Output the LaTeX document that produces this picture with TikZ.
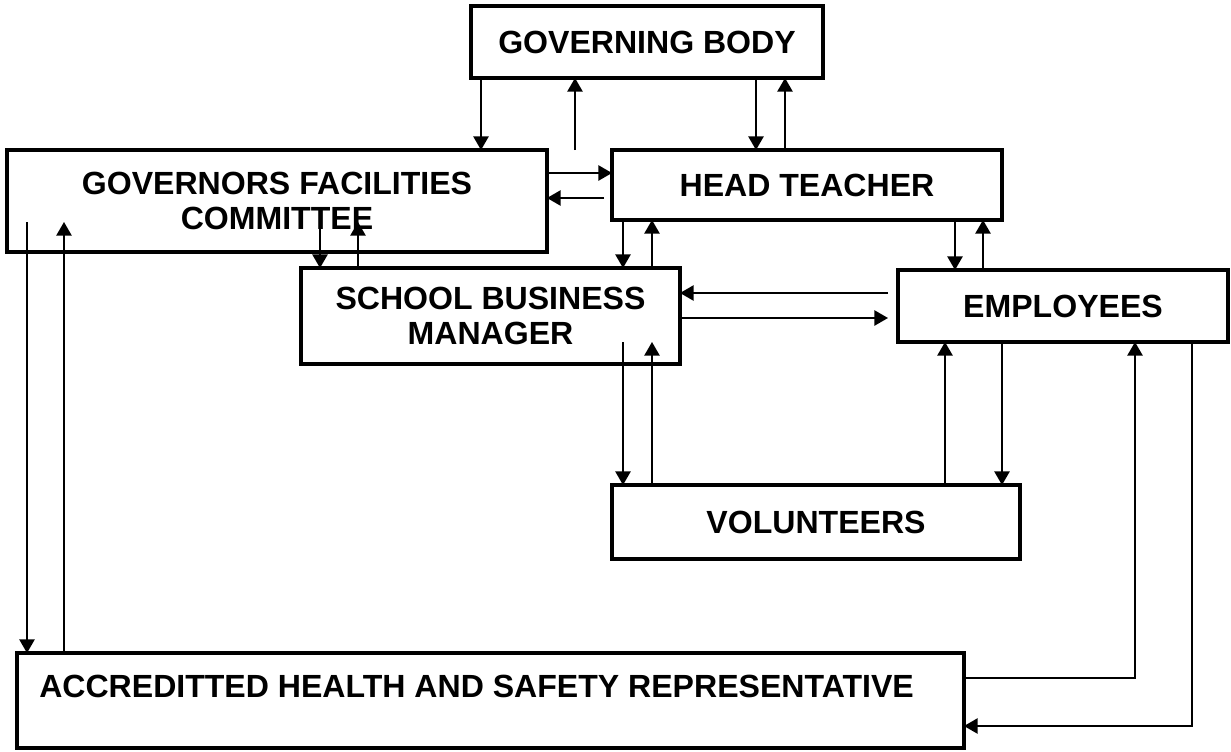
\documentclass[tikz,border=0pt]{standalone}
\usepackage{fontspec}
\setmainfont{Liberation Sans}
\usetikzlibrary{arrows.meta}
\begin{document}
\begin{tikzpicture}[x=0.025cm,y=-0.025cm,
  box/.style={draw,line width=3.4pt,outer sep=0pt,inner sep=0pt,align=center,
    font=\fontsize{22.8}{25.5}\selectfont\bfseries},
  arr/.style={line width=1.3pt,-{Triangle[length=0.34cm,width=0.38cm]}}]
 \useasboundingbox (0,0) rectangle (1231,751);
 \node[box,minimum width=352*0.025cm,minimum height=72*0.025cm] (gb) at (647,42) {GOVERNING BODY};
 \node[box,minimum width=540*0.025cm,minimum height=102*0.025cm] (gfc) at (277,201) {GOVERNORS FACILITIES\\COMMITTEE};
 \node[box,minimum width=390*0.025cm,minimum height=70*0.025cm] (ht) at (807,185) {HEAD TEACHER};
 \node[box,minimum width=379*0.025cm,minimum height=96*0.025cm] (sbm) at (490.5,316) {SCHOOL BUSINESS\\MANAGER};
 \node[box,minimum width=330*0.025cm,minimum height=72*0.025cm] (emp) at (1063,306) {EMPLOYEES};
 \node[box,minimum width=408*0.025cm,minimum height=74*0.025cm] (vol) at (816,522) {VOLUNTEERS};
 \node[box,minimum width=947*0.025cm,minimum height=95*0.025cm] (ahsr) at (490.5,700.5) {};
 \node[anchor=west,inner sep=0pt,font=\fontsize{22.8}{25.5}\selectfont\bfseries] (ahsrlbl) at (39,686) {ACCREDITTED HEALTH AND SAFETY REPRESENTATIVE};
 \coordinate (gbup) at (575,150);
 \coordinate (htout) at (604,198);
 \coordinate (gfcsbm) at (320,222);
 \coordinate (sbmgfc) at (358,222);
 \coordinate (gfcahsr) at (27,222);
 \coordinate (ahsrgfc) at (64,222);
 \coordinate (sbmvol) at (623,342);
 \coordinate (volsbm) at (652,342);
 \coordinate (empout) at (888,293);
 \coordinate (empin) at (888,318);
 \draw[arr] (gb.south -| 481,0) -- (gfc.north -| 481,0);
 \draw[arr] (gbup) -- (gb.south -| gbup);
 \draw[arr] (gb.south -| 756,0) -- (ht.north -| 756,0);
 \draw[arr] (ht.north -| 785,0) -- (gb.south -| 785,0);
 \draw[arr] (gfc.east |- 0,173) -- (ht.west |- 0,173);
 \draw[arr] (htout) -- (gfc.east |- htout);
 \draw[arr] (gfcsbm) -- (sbm.north -| gfcsbm);
 \draw[arr] (sbm.north -| sbmgfc) -- (sbmgfc);
 \draw[arr] (ht.south -| 623,0) -- (sbm.north -| 623,0);
 \draw[arr] (sbm.north -| 652,0) -- (ht.south -| 652,0);
 \draw[arr] (ht.south -| 955,0) -- (emp.north -| 955,0);
 \draw[arr] (emp.north -| 983,0) -- (ht.south -| 983,0);
 \draw[arr] (empout) -- (sbm.east |- empout);
 \draw[arr] (sbm.east |- empin) -- (empin);
 \draw[arr] (sbmvol) -- (vol.north -| sbmvol);
 \draw[arr] (vol.north -| volsbm) -- (volsbm);
 \draw[arr] (vol.north -| 945,0) -- (emp.south -| 945,0);
 \draw[arr] (emp.south -| 1002,0) -- (vol.north -| 1002,0);
 \draw[arr] (gfcahsr) -- (ahsr.north -| gfcahsr);
 \draw[arr] (ahsr.north -| ahsrgfc) -- (ahsrgfc);
 \draw[arr] (ahsr.east |- 0,678) -| (emp.south -| 1135,0);
 \draw[arr] (emp.south -| 1192,0) |- (ahsr.east |- 0,726);
\end{tikzpicture}
\end{document}
